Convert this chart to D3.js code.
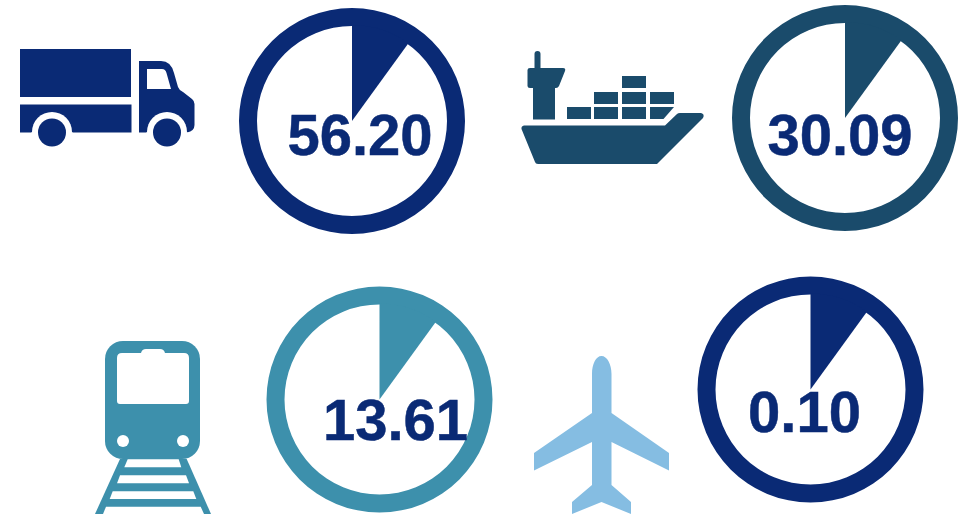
<!DOCTYPE html>
<html>
<head>
<meta charset="utf-8">
<script src="https://cdn.jsdelivr.net/npm/d3@7"></script>
<style>
    html, body { margin: 0; padding: 0; background: #fff; }
    svg { display: block; }
</style>
</head>
<body>
<div id="chart"></div>
<script>
// Values printed in each dial
const modes = ['truck', 'ship', 'train', 'plane'];
const values = [56.20, 30.09, 13.61, 0.10];
// The wedge is the same size on all four dials in the picture
const wedgeShares = [10, 10, 10, 10];
const ringColors = ['#0a2a75', '#1a4b6b', '#3d90ac', '#0a2a75'];

// Layout
const width = 958;
const height = 514;
const outerRadius = 113;
const innerRadius = 95;
const dialCenters = [[352, 121], [845, 118], [379.5, 399.5], [810.5, 389.5]];
const labelAnchors = [[360, 155], [840, 155], [395.5, 439.5], [804.5, 432]];

const navy = '#0a2a75';
const shipBlue = '#1a4b6b';
const teal = '#3d90ac';
const skyBlue = '#85bde2';

const svg = d3.select('#chart')
    .append('svg')
    .attr('width', width)
    .attr('height', height);

// Icons
function drawTruck(g) {
    const p = g.append('g').attr('fill', navy);
    p.append('rect').attr('x', 20).attr('y', 49).attr('width', 111).attr('height', 48);
    p.append('rect').attr('x', 20).attr('y', 104.5).attr('width', 111.5).attr('height', 28);
    p.append('path').attr('fill-rule', 'evenodd').attr('d',
        'M139,61 L161,61 Q171,61 174,73 L178,87 Q179,90 183,92 L192,99 Q194.5,101 194.5,104 ' +
        'L194.5,125 Q194.5,131 187,132.5 L139,132.5 Z ' +
        'M147,69 L162,69 Q165.5,69 166.5,73 L171,89 L147,89 Z');
    [52, 167].forEach(cx => {
        g.append('circle').attr('cx', cx).attr('cy', 132).attr('r', 20).attr('fill', '#fff');
        g.append('rect').attr('x', cx - 21).attr('y', 132.5).attr('width', 42).attr('height', 20).attr('fill', '#fff');
        g.append('circle').attr('cx', cx).attr('cy', 132.5).attr('r', 14).attr('fill', navy);
    });
}

function drawShip(g) {
    const p = g.append('g').attr('fill', shipBlue);
    p.append('rect').attr('x', 534.5).attr('y', 51).attr('width', 6).attr('height', 20).attr('rx', 3);
    p.append('path').attr('d',
        'M530,68 L563,68 Q566,68 565,71 L559,86 Q558,88 556,88 L555,88 L555,119.5 L533,119.5 L533,88 ' +
        'L530,88 Q527.5,88 527.5,86 L527.5,70 Q527.5,68 530,68 Z');
    const boxes = [[567, 107], [594, 107], [622, 107], [594, 92], [622, 92], [650, 92], [622, 76]];
    p.selectAll('rect.box')
        .data(boxes)
        .enter()
        .append('rect')
        .attr('class', 'box')
        .attr('x', d => d[0])
        .attr('y', d => d[1])
        .attr('width', 24)
        .attr('height', 12);
    p.append('path').attr('d', 'M650,107 L674,107 L663.5,119 L650,119 Z');
    p.append('path').attr('d',
        'M524,125.5 L665,125.5 L677,114 Q678,113 680,113 L701,113 Q705,114 703,118 ' +
        'L657,164 L538,164 Q535.5,164 535,162 L521.5,129 Q521,126 524,125.5 Z');
}

function drawTrain(g) {
    g.append('path').attr('fill', teal).attr('d',
        'M120,459 L186.7,459 L211,514 L95,514 Z');
    const body = g.append('g');
    body.append('rect').attr('x', 105).attr('y', 341).attr('width', 95).attr('height', 118).attr('rx', 18).attr('fill', teal);
    body.append('path').attr('fill', '#fff').attr('d',
        'M122,353 L141,353 Q142,349 146,349 L160,349 Q164,349 165,353 L184,353 Q189,353 189,358 ' +
        'L189,401 Q189,404 186,404 L120,404 Q117,404 117,401 L117,358 Q117,353 122,353 Z');
    [123, 183].forEach(cx => {
        body.append('circle').attr('cx', cx).attr('cy', 441).attr('r', 6).attr('fill', '#fff');
    });
    const gaps = [
        'M127.7,459.3 L178.7,459.3 L181.3,467.3 L124.3,467.3 Z',
        'M120,475.3 L186,475.3 L189,483.3 L117,483.3 Z',
        'M112.7,491.3 L193.3,491.3 L196.3,499 L109.7,499 Z',
        'M106,506.7 L200.7,506.7 L204,514 L103,514 Z'
    ];
    g.selectAll('path.gap')
        .data(gaps)
        .enter()
        .append('path')
        .attr('class', 'gap')
        .attr('fill', '#fff')
        .attr('d', d => d);
}

function drawPlane(g) {
    g.append('path').attr('fill', skyBlue).attr('d',
        'M592,413 L592,374 C592,364 596,356 601.5,356 C607,356 611.5,364 611.5,374 L611.5,413 ' +
        'L669,453 L669,470.5 L611.5,442 L611.5,485 L631,502 L631,514 L601.5,502 L572,514 L572,502 ' +
        'L592,485 L592,442 L534,470.5 L534,453 Z');
}

const iconDrawers = { truck: drawTruck, ship: drawShip, train: drawTrain, plane: drawPlane };
modes.forEach(mode => iconDrawers[mode](svg.append('g').attr('class', `icon-${mode}`)));

// Dials
const pie = d3.pie().sort(null);

const ringArc = d3.arc()
    .innerRadius(innerRadius)
    .outerRadius(outerRadius)
    .startAngle(0)
    .endAngle(2 * Math.PI);

const wedgeArc = d3.arc()
    .innerRadius(0)
    .outerRadius(innerRadius + 1);

const dials = svg.selectAll('g.dial')
    .data(values.map((value, i) => ({ value, i })))
    .enter()
    .append('g')
    .attr('class', 'dial');

dials.append('path')
    .attr('transform', d => `translate(${dialCenters[d.i]})`)
    .attr('fill', d => ringColors[d.i])
    .attr('d', () => ringArc());

dials.append('path')
    .attr('transform', d => `translate(${dialCenters[d.i]})`)
    .attr('fill', d => ringColors[d.i])
    .attr('d', d => wedgeArc(pie([wedgeShares[d.i], 100 - wedgeShares[d.i]])[0]));

dials.append('text')
    .attr('x', d => labelAnchors[d.i][0])
    .attr('y', d => labelAnchors[d.i][1])
    .attr('text-anchor', 'middle')
    .attr('font-family', '"Liberation Sans", Arial, sans-serif')
    .attr('font-weight', 'bold')
    .attr('font-size', '58px')
    .attr('fill', navy)
    .attr('stroke', navy)
    .attr('stroke-width', 0.5)
    .text(d => d.value.toFixed(2));
</script>
</body>
</html>
